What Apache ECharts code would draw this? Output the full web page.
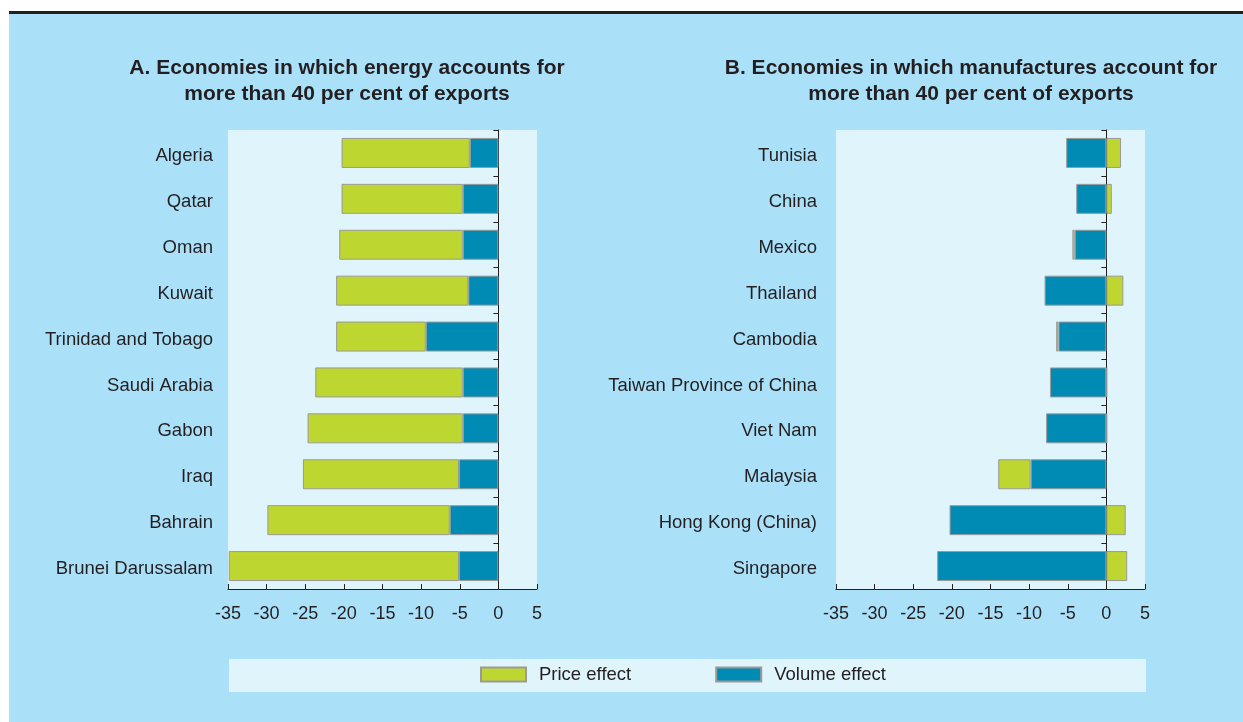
<!DOCTYPE html>
<html>
<head>
<meta charset="utf-8">
<script src="https://cdn.jsdelivr.net/npm/echarts@6/dist/echarts.min.js"></script>
<style>
  html, body { margin: 0; padding: 0; background: #fff; }
  #chart { width: 1243px; height: 722px; }
</style>
</head>
<body>
<div id="chart"></div>
<script>
// Panel A: energy exporters
const catsA = ['Algeria', 'Qatar', 'Oman', 'Kuwait', 'Trinidad and Tobago', 'Saudi Arabia', 'Gabon', 'Iraq', 'Bahrain', 'Brunei Darussalam'];
const priceA = [-16.6, -15.7, -16.0, -17.1, -11.6, -19.1, -20.1, -20.2, -23.6, -29.8];
const volumeA = [-3.7, -4.6, -4.6, -3.9, -9.4, -4.6, -4.6, -5.1, -6.3, -5.1];

// Panel B: manufactures exporters
const catsB = ['Tunisia', 'China', 'Mexico', 'Thailand', 'Cambodia', 'Taiwan Province of China', 'Viet Nam', 'Malaysia', 'Hong Kong (China)', 'Singapore'];
const priceB = [1.9, 0.7, -0.3, 2.2, -0.3, 0.1, 0.1, -4.2, 2.5, 2.7];
const volumeB = [-5.2, -3.9, -4.1, -8.0, -6.2, -7.3, -7.8, -9.8, -20.3, -21.9];

const xTicks = [-35, -30, -25, -20, -15, -10, -5, 0, 5];

const FONT = "'Liberation Sans', Arial, sans-serif";
const INK = '#231f20';
const GREEN = '#bed630';
const BLUE = '#008bb5';
const PANEL = '#e0f4fb';

const chart = echarts.init(document.getElementById('chart'));

function xAxisFor(gi) {
  return {
    type: 'value',
    gridIndex: gi,
    min: xTicks[0],
    max: xTicks[xTicks.length - 1],
    interval: xTicks[1] - xTicks[0],
    axisLine: { show: true, lineStyle: { color: INK, width: 1 } },
    axisTick: { show: true, inside: true, length: 5, lineStyle: { color: INK } },
    axisLabel: { fontSize: 18, color: INK, fontFamily: FONT, margin: 16 },
    splitLine: { show: false }
  };
}

// labels sit a little below the band centre in the original
function labelAxis(gi, cats, margin) {
  return {
    type: 'category',
    gridIndex: gi,
    data: cats,
    inverse: true,
    position: 'left',
    axisLine: { show: false, onZero: false },
    axisTick: { show: false },
    axisLabel: {
      fontSize: 18.5, color: INK, fontFamily: FONT, margin: margin,
      verticalAlign: 'top', lineHeight: 6
    }
  };
}

function zeroAxis(gi, cats) {
  return {
    type: 'category',
    gridIndex: gi,
    data: cats,
    inverse: true,
    position: 'left',
    axisLine: { show: true, onZero: true, lineStyle: { color: INK, width: 1 } },
    axisTick: { show: true, length: 5, lineStyle: { color: INK } },
    axisLabel: { show: false }
  };
}

function barSeries(name, data, gi, stack, color) {
  return {
    name: name,
    type: 'bar',
    xAxisIndex: gi,
    yAxisIndex: gi * 2,
    stack: stack,
    data: data,
    barWidth: 30,
    itemStyle: { color: color, borderColor: '#9a9a9a', borderWidth: 1 },
    emphasis: { disabled: true }
  };
}

const titleStyle = {
  fontSize: 21,
  fontWeight: 'bold',
  fontFamily: FONT,
  fill: INK,
  textAlign: 'center',
  textVerticalAlign: 'top',
  lineHeight: 26
};

const option = {
  backgroundColor: '#abe0f9',
  animation: false,
  graphic: [
    { type: 'rect', shape: { x: 0, y: 0, width: 1243, height: 11 }, style: { fill: '#fff' }, silent: true },
    { type: 'rect', shape: { x: 0, y: 0, width: 9, height: 722 }, style: { fill: '#fff' }, silent: true },
    { type: 'rect', shape: { x: 9, y: 11, width: 1234, height: 3 }, style: { fill: INK }, silent: true },
    { type: 'rect', shape: { x: 229, y: 659, width: 917, height: 33 }, style: { fill: PANEL }, silent: true },
    {
      type: 'text', x: 347, y: 55, silent: true,
      style: Object.assign({ text: 'A. Economies in which energy accounts for\nmore than 40 per cent of exports' }, titleStyle)
    },
    {
      type: 'text', x: 971, y: 55, silent: true,
      style: Object.assign({ text: 'B. Economies in which manufactures account for\nmore than 40 per cent of exports' }, titleStyle)
    }
  ],
  legend: {
    data: ['Price effect', 'Volume effect'],
    left: 475,
    top: 660,
    itemWidth: 45,
    itemHeight: 14,
    itemGap: 84,
    icon: 'rect',
    textStyle: { fontSize: 18.5, color: INK, fontFamily: FONT, padding: [0, 0, 0, 8] }
  },
  grid: [
    { left: 228, top: 130, width: 309, height: 459, show: true, backgroundColor: PANEL, borderWidth: 0, outerBoundsMode: 'none' },
    { left: 836, top: 130, width: 309, height: 459, show: true, backgroundColor: PANEL, borderWidth: 0, outerBoundsMode: 'none' }
  ],
  xAxis: [xAxisFor(0), xAxisFor(1)],
  yAxis: [
    labelAxis(0, catsA, 15),
    zeroAxis(0, catsA),
    labelAxis(1, catsB, 19),
    zeroAxis(1, catsB)
  ],
  series: [
    barSeries('Volume effect', volumeA, 0, 'a', BLUE),
    barSeries('Price effect', priceA, 0, 'a', GREEN),
    barSeries('Volume effect', volumeB, 1, 'b', BLUE),
    barSeries('Price effect', priceB, 1, 'b', GREEN)
  ]
};

chart.setOption(option);
</script>
</body>
</html>
